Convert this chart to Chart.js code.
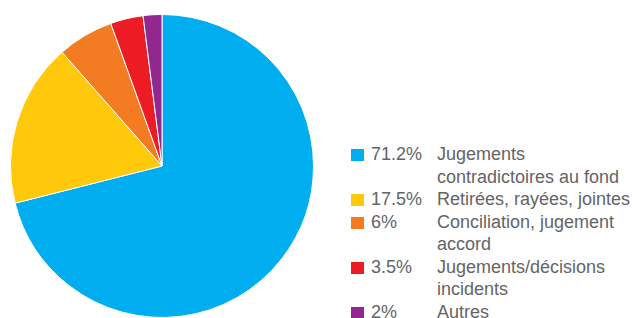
<!DOCTYPE html>
<html>
<head>
<meta charset="utf-8">
<script src="https://cdn.jsdelivr.net/npm/chart.js@4/dist/chart.umd.min.js"></script>
<style>
  html, body { margin: 0; padding: 0; background: #fff; }
  body { width: 635px; height: 318px; position: relative; overflow: hidden; font-family: "Liberation Sans", Arial, sans-serif; }
  #wrap { position: absolute; left: 0; top: 14px; width: 324px; height: 304px; }
  #legend { position: absolute; left: 351px; top: 143px; color: #636466; font-size: 18px; line-height: 22.5px; }
  .row { position: relative; padding-left: 86px; }
  .sw { position: absolute; left: 0; top: 6px; width: 13px; height: 12px; }
  .pct { position: absolute; left: 20px; top: 0; }
</style>
</head>
<body>
<div id="wrap"><canvas id="pie"></canvas></div>
<div id="legend"></div>
<script>
const labels = [
  ["Jugements", "contradictoires au fond"],
  ["Retirées, rayées, jointes"],
  ["Conciliation, jugement", "accord"],
  ["Jugements/décisions", "incidents"],
  ["Autres"]
];
const values = [71.2, 17.5, 6, 3.5, 2];
const pctLabels = ["71.2%", "17.5%", "6%", "3.5%", "2%"];
const colors = ["#00AEEF", "#FFC80B", "#F37C22", "#ED1C24", "#92278F"];

const legend = document.getElementById("legend");
labels.forEach((l, i) => {
  legend.innerHTML += `
    <div class="row">
      <span class="sw" style="background:${colors[i]}"></span>
      <span class="pct">${pctLabels[i]}</span>
      ${l.join("<br>")}
    </div>`;
});

new Chart(document.getElementById("pie"), {
  type: "pie",
  data: {
    labels: labels.map(l => l.join(" ")),
    datasets: [{ data: values, backgroundColor: colors, borderColor: "#fff", borderWidth: 1 }]
  },
  options: {
    responsive: true,
    maintainAspectRatio: false,
    animation: false,
    layout: { padding: 0 },
    plugins: { legend: { display: false }, tooltip: { enabled: false } }
  }
});
</script>
</body>
</html>
